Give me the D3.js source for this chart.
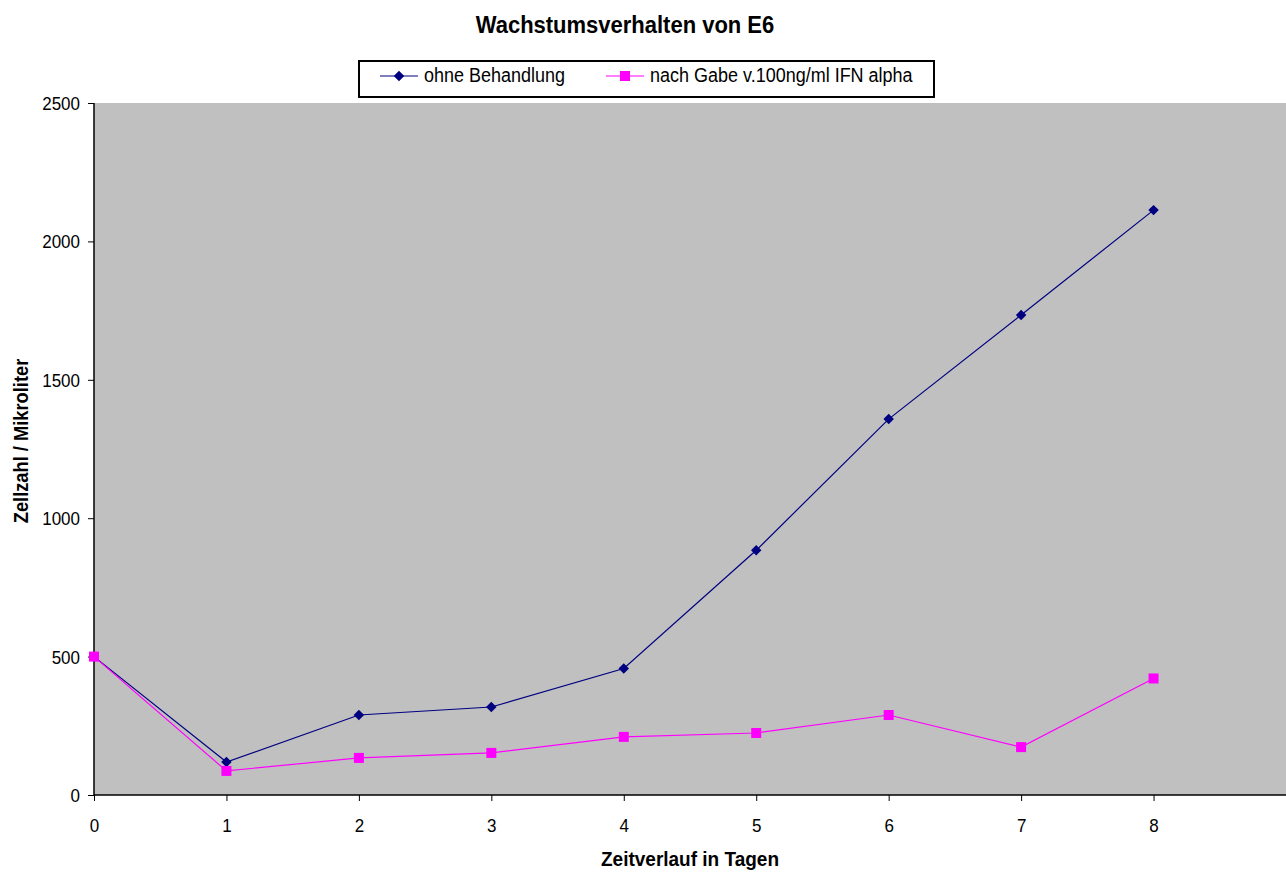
<!DOCTYPE html>
<html>
<head>
<meta charset="utf-8">
<script src="https://cdn.jsdelivr.net/npm/d3@7"></script>
<style>
  html, body { margin: 0; padding: 0; background: #fff; }
  svg { display: block; font-family: "Liberation Sans", Arial, sans-serif; }
</style>
</head>
<body>
<svg id="chart" width="1286" height="875"></svg>
<script>
// Days after seeding
const days = [0, 1, 2, 3, 4, 5, 6, 7, 8];
// Cells per microliter, untreated
const untreated = [500, 119, 289, 318, 457, 884, 1358, 1734, 2113];
// Cells per microliter after 100 ng/ml IFN alpha
const treated = [500, 87, 134, 152, 210, 224, 289, 173, 421];
const xTicks = [0, 1, 2, 3, 4, 5, 6, 7, 8];
const yTicks = [0, 500, 1000, 1500, 2000, 2500];

const seriesNames = ["ohne Behandlung", "nach Gabe v.100ng/ml IFN alpha"];

const svg = d3.select("#chart");
const W = 1286, H = 875;
const m = { left: 94, right: 0, top: 103, bottom: 80 };
const stretch = 1.1; // slightly tall lettering

const x = d3.scaleLinear().domain([0, 9]).range([m.left, W - m.right]);
const y = d3.scaleLinear().domain([0, 2500]).range([H - m.bottom, m.top]);

// Plot area
svg.append("rect")
  .attr("x", x(0)).attr("y", y(2500))
  .attr("width", x(9) - x(0)).attr("height", y(0) - y(2500))
  .attr("fill", "#c0c0c0");

// Axes
const xAxis = d3.axisBottom(x).tickValues(xTicks).tickSize(6).tickFormat(d3.format("d"));
const yAxis = d3.axisLeft(y).tickValues(yTicks).tickSize(6).tickFormat(d3.format("d"));

const gx = svg.append("g").attr("transform", `translate(0,${y(0)})`).call(xAxis);
const gy = svg.append("g").attr("transform", `translate(${x(0)},0)`).call(yAxis);
[gx, gy].forEach(g => {
  g.select(".domain").attr("stroke", "#000").attr("stroke-width", 1.5);
  g.selectAll(".tick line").attr("stroke", "#000");
  g.selectAll(".tick text").attr("font-size", 17).attr("fill", "#000")
    .attr("font-family", "Liberation Sans, Arial, sans-serif")
    .attr("x", 0).attr("y", 0).attr("dy", null);
});
gx.select(".domain").attr("d", `M${x(0)},0H${x(9)}`);
gy.select(".domain").attr("d", `M0,${y(2500)}V${y(0)}`);
gx.selectAll(".tick text").attr("transform", `translate(0,37) scale(1,${stretch})`);
gy.selectAll(".tick text").attr("transform", `translate(-14,6.5) scale(1,${stretch})`);

// Lines and markers
const line = d3.line().x((d, i) => x(days[i])).y(d => y(d));

svg.append("path").datum(untreated)
  .attr("d", line).attr("fill", "none").attr("stroke", "#000080").attr("stroke-width", 1.2);
svg.append("path").datum(treated)
  .attr("d", line).attr("fill", "none").attr("stroke", "#ff00ff").attr("stroke-width", 1.2);

const diamond = d3.symbol().type(d3.symbolDiamond2).size(70);

svg.append("g").selectAll("path").data(untreated).join("path")
  .attr("transform", (d, i) => `translate(${x(days[i])},${y(d)})`)
  .attr("d", diamond).attr("fill", "#000080");

svg.append("g").selectAll("rect").data(treated).join("rect")
  .attr("x", (d, i) => x(days[i]) - 5).attr("y", d => y(d) - 5)
  .attr("width", 10).attr("height", 10).attr("fill", "#ff00ff");

// Title
svg.append("text").attr("transform", `translate(625,33) scale(1,${stretch})`).attr("text-anchor", "middle")
  .attr("font-size", 22).attr("font-weight", "bold").text("Wachstumsverhalten von E6");

// Axis titles
svg.append("text").attr("transform", `translate(690,866) scale(1,${stretch})`).attr("text-anchor", "middle")
  .attr("font-size", 19).attr("font-weight", "bold").text("Zeitverlauf in Tagen");
svg.append("text").attr("transform", `translate(28,441) rotate(-90) scale(1,${stretch})`).attr("text-anchor", "middle")
  .attr("font-size", 18.3).attr("font-weight", "bold").text("Zellzahl / Mikroliter");

// Legend
const lg = svg.append("g");
lg.append("rect").attr("x", 359).attr("y", 61).attr("width", 575).attr("height", 36)
  .attr("fill", "#fff").attr("stroke", "#000").attr("stroke-width", 2);

const items = [
  { name: seriesNames[0], color: "#000080", x0: 380, marker: "diamond" },
  { name: seriesNames[1], color: "#ff00ff", x0: 606, marker: "square" }
];
items.forEach(it => {
  const cy = 76;
  lg.append("line").attr("x1", it.x0).attr("x2", it.x0 + 38).attr("y1", cy).attr("y2", cy)
    .attr("stroke", it.color).attr("stroke-width", 1.2);
  if (it.marker === "diamond") {
    lg.append("path").attr("transform", `translate(${it.x0 + 19},${cy})`).attr("d", diamond).attr("fill", it.color);
  } else {
    lg.append("rect").attr("x", it.x0 + 14).attr("y", cy - 5).attr("width", 10).attr("height", 10).attr("fill", it.color);
  }
  lg.append("text").attr("transform", `translate(${it.x0 + 44},${cy + 6}) scale(1,${stretch})`)
    .attr("font-size", 18).text(it.name);
});
</script>
</body>
</html>
